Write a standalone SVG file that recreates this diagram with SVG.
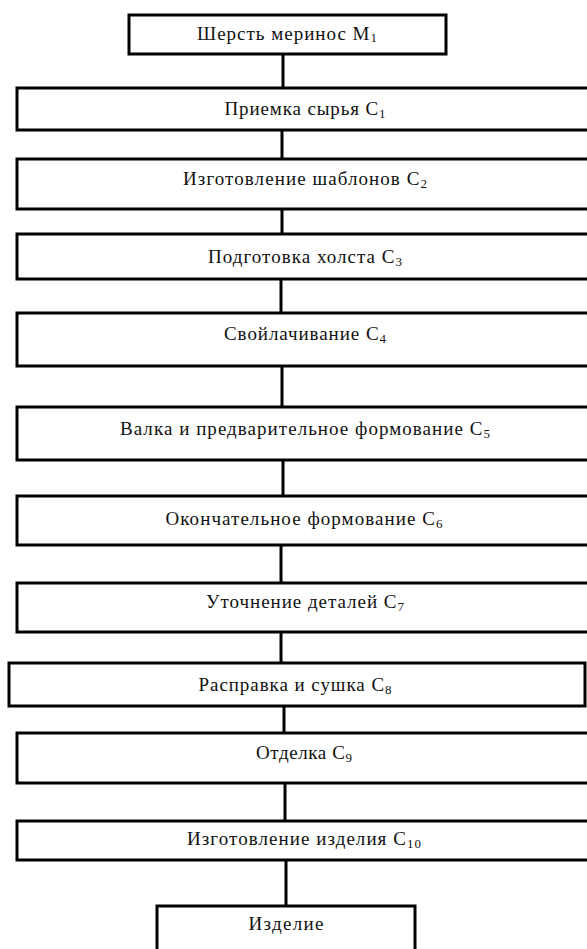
<svg xmlns="http://www.w3.org/2000/svg" width="587" height="949" viewBox="0 0 587 949">
<style>
  .box { fill: #ffffff; stroke: #000000; stroke-width: 3; }
  .lbl { font-family: "Liberation Serif", "Times New Roman", serif; font-size: 19px; fill: #111111; text-anchor: middle; }
  .sub { font-size: 13px; }
  .conn { stroke: #000000; stroke-width: 3; fill: none; }
</style>
<rect x="0" y="0" width="587" height="949" fill="#ffffff"/>
<g id="connectors">
  <line class="conn" x1="283" y1="54" x2="283" y2="88"/>
  <line class="conn" x1="282" y1="130" x2="282" y2="159"/>
  <line class="conn" x1="282" y1="209" x2="282" y2="234"/>
  <line class="conn" x1="281" y1="279" x2="281" y2="313"/>
  <line class="conn" x1="282" y1="366" x2="282" y2="407"/>
  <line class="conn" x1="283" y1="460" x2="283" y2="496"/>
  <line class="conn" x1="281" y1="545" x2="281" y2="583"/>
  <line class="conn" x1="281" y1="632" x2="281" y2="663"/>
  <line class="conn" x1="284" y1="706" x2="284" y2="733"/>
  <line class="conn" x1="285" y1="783" x2="285" y2="821"/>
  <line class="conn" x1="286" y1="860" x2="286" y2="906"/>
</g>
<g id="m1">
  <rect class="box" x="129" y="15" width="317" height="39"/>
  <text class="lbl" x="287" y="40" textLength="180">Шерсть меринос М<tspan class="sub" dy="2">1</tspan></text>
</g>
<g id="c1">
  <rect class="box" x="17" y="88" width="580" height="42"/>
  <text class="lbl" x="305" y="115" textLength="161">Приемка сырья С<tspan class="sub" dy="3">1</tspan></text>
</g>
<g id="c2">
  <rect class="box" x="17" y="159" width="580" height="50"/>
  <text class="lbl" x="305" y="185" textLength="244">Изготовление шаблонов С<tspan class="sub" dy="3">2</tspan></text>
</g>
<g id="c3">
  <rect class="box" x="17" y="234" width="580" height="45"/>
  <text class="lbl" x="305" y="263" textLength="194">Подготовка холста С<tspan class="sub" dy="3">3</tspan></text>
</g>
<g id="c4">
  <rect class="box" x="17" y="313" width="580" height="53"/>
  <text class="lbl" x="305" y="340" textLength="162">Свойлачивание С<tspan class="sub" dy="3">4</tspan></text>
</g>
<g id="c5">
  <rect class="box" x="17" y="407" width="580" height="53"/>
  <text class="lbl" x="305" y="435" textLength="370">Валка и предварительное формование С<tspan class="sub" dy="3">5</tspan></text>
</g>
<g id="c6">
  <rect class="box" x="17" y="496" width="580" height="49"/>
  <text class="lbl" x="304" y="525" textLength="277">Окончательное формование С<tspan class="sub" dy="3">6</tspan></text>
</g>
<g id="c7">
  <rect class="box" x="17" y="583" width="580" height="49"/>
  <text class="lbl" x="305" y="608" textLength="198">Уточнение деталей С<tspan class="sub" dy="3">7</tspan></text>
</g>
<g id="c8">
  <rect class="box" x="9" y="663" width="576" height="43"/>
  <text class="lbl" x="295" y="691" textLength="193">Расправка и сушка С<tspan class="sub" dy="3">8</tspan></text>
</g>
<g id="c9">
  <rect class="box" x="17" y="733" width="580" height="50"/>
  <text class="lbl" x="304" y="759" textLength="96">Отделка С<tspan class="sub" dy="3">9</tspan></text>
</g>
<g id="c10">
  <rect class="box" x="17" y="821" width="580" height="39"/>
  <text class="lbl" x="304" y="845" textLength="234">Изготовление изделия С<tspan class="sub" dy="3">10</tspan></text>
</g>
<g id="product">
  <rect class="box" x="157" y="906" width="258" height="60"/>
  <text class="lbl" x="286" y="930" textLength="75">Изделие</text>
</g>
</svg>
